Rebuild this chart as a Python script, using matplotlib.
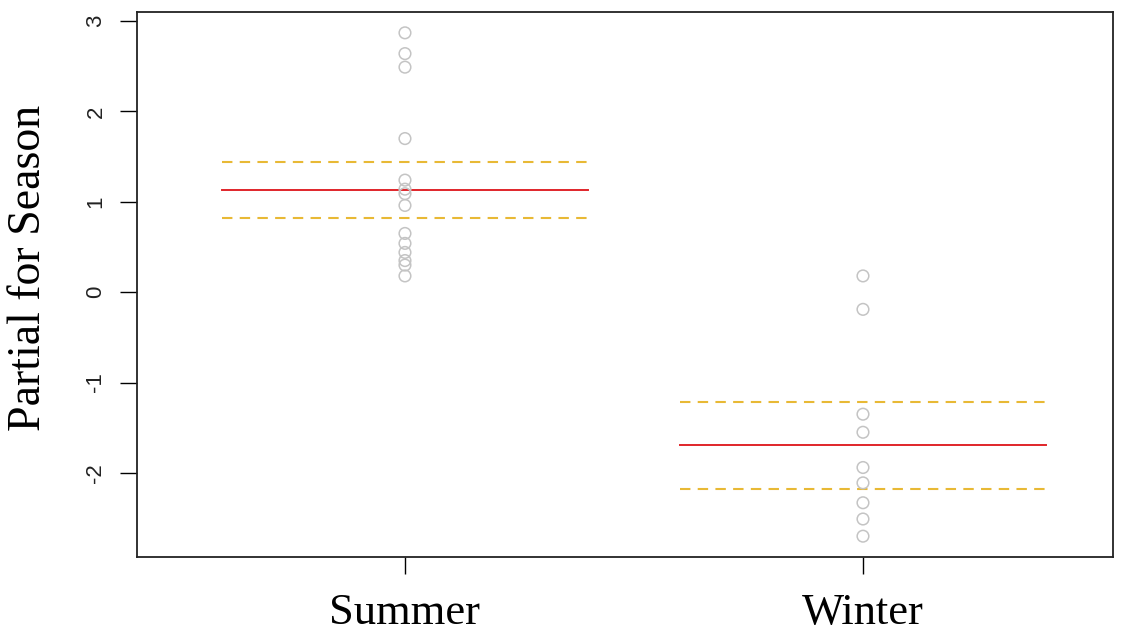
import matplotlib
matplotlib.use("Agg")
import matplotlib.pyplot as plt
import numpy as np

seasons = ["Summer", "Winter"]
summer_pts = [2.87, 2.64, 2.49, 1.70, 1.24, 1.14, 1.09, 0.96, 0.65, 0.54, 0.44, 0.35, 0.30, 0.18]
winter_pts = [0.18, -0.19, -1.35, -1.55, -1.94, -2.11, -2.33, -2.51, -2.70]
fit = [1.13, -1.69]
upper = [1.44, -1.22]
lower = [0.82, -2.18]
yticks = [-2, -1, 0, 1, 2, 3]

fig = plt.figure(figsize=(11.26, 6.34), dpi=100)
ax = fig.add_axes([0.1217, 0.1215, 0.8668, 0.8595])

for i, pts in enumerate([summer_pts, winter_pts]):
    x = np.full(len(pts), i + 1)
    ax.scatter(x, pts, s=70, facecolors="none", edgecolors="#c4c4c4", linewidths=1.1, zorder=3)
    ax.plot([i + 0.6, i + 1.4], [fit[i], fit[i]], color="#e0252a", lw=1.4, zorder=2)
    for v in (upper[i], lower[i]):
        ax.plot([i + 0.6, i + 1.4], [v, v], color="#e8b935", lw=1.5, ls=(0, (5, 3.5)), zorder=2)

ax.set_xlim(0.415, 2.546)
ax.set_ylim(-2.93, 3.1)
ax.set_xticks([1, 2])
ax.set_xticklabels(seasons, fontfamily="Liberation Serif", fontsize=32)
ax.set_yticks(yticks)
ax.set_yticklabels([str(t) for t in yticks], rotation=90, va="center",
                   fontfamily="Liberation Sans", fontsize=16, color="#222222")
ax.tick_params(axis="y", length=12, width=1, pad=10)
ax.tick_params(axis="x", length=12, width=1, pad=14)
ax.set_ylabel("Partial for Season", fontfamily="Liberation Serif", fontsize=33)
ax.yaxis.set_label_coords(-0.089, 0.53)
for sp in ax.spines.values():
    sp.set_linewidth(1.3)
    sp.set_color("#222222")

plt.savefig("out.png", dpi=100)
plt.close()
